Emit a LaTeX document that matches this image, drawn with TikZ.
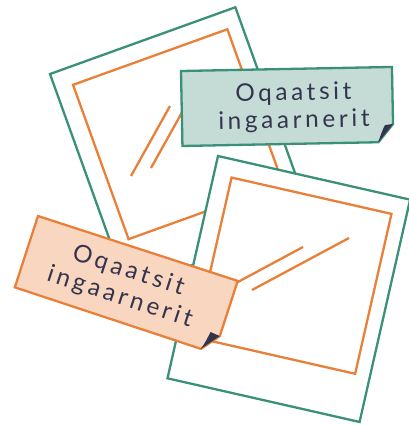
\documentclass[tikz,border=0pt]{standalone}
\usepackage{fontspec}
\newfontfamily\labelfont[LetterSpace=15]{Lato}
\definecolor{pgreen}{HTML}{3B9079}
\definecolor{porange}{HTML}{E8803A}
\definecolor{lgreen}{HTML}{C4DCD5}
\definecolor{lpeach}{HTML}{F8D6BF}
\definecolor{navy}{HTML}{34344F}
\tikzset{
  outerframe/.style={draw=pgreen, line width=2.3pt, fill=white, line join=miter},
  innerframe/.style={draw=porange, line width=2.3pt, line join=miter},
  glint/.style={draw=porange, line width=2.3pt},
  tagshape/.style={line width=2.3pt, line join=miter},
  foldshape/.style={fill=navy, draw=none},
  tagtext/.style={text=navy, align=center, font=\labelfont\fontsize{24.3}{27.6}\selectfont, inner sep=0pt}
}
\begin{document}
\begin{tikzpicture}[x=1pt, y=-1pt]
\useasboundingbox (0,0) rectangle (408,426);
% back photo
\begin{scope}[shift={(50,74)}, rotate=19.8]
  \path[outerframe] (0,0) rectangle (197,228);
  \path[innerframe] (18,18) rectangle (182,182);
\end{scope}
\draw[glint] (131,176) -- (170,106);
\draw[glint] (151,168) -- (190,98);
% green tag
\begin{scope}[shift={(181,71)}, rotate=1.1, transform shape]
  \path[tagshape, draw=pgreen, fill=lgreen] (0,0) -- (211,0) -- (211,57) -- (196,75) -- (0,75) -- cycle;
  \path[foldshape] (211,57) -- (203,58) .. controls (200,63) and (198,69) .. (196,75) -- cycle;
  \node[tagtext] (t1) at (112,38.7) {Oqaatsit\\ingaarnerit};
\end{scope}
% front photo
\begin{scope}[shift={(218,156)}, rotate=-12.8]
  \path[outerframe] (0,0) rectangle (197,228);
  \path[innerframe] (18,18) rectangle (182,182);
\end{scope}
\draw[glint] (236,283) -- (303,247);
\draw[glint] (252,290) -- (349,238);
% peach tag
\begin{scope}[shift={(38,216)}, rotate=-18, transform shape]
  \path[tagshape, draw=porange, fill=lpeach] (0,0) -- (210,0) -- (210,58) -- (196,76) -- (0,75) -- cycle;
  \path[foldshape] (210,58) -- (200,57) .. controls (199,63) and (198,70) .. (196,76) -- cycle;
  \node[tagtext] (t2) at (103,38.5) {Oqaatsit\\ingaarnerit};
\end{scope}
\end{tikzpicture}
\end{document}
